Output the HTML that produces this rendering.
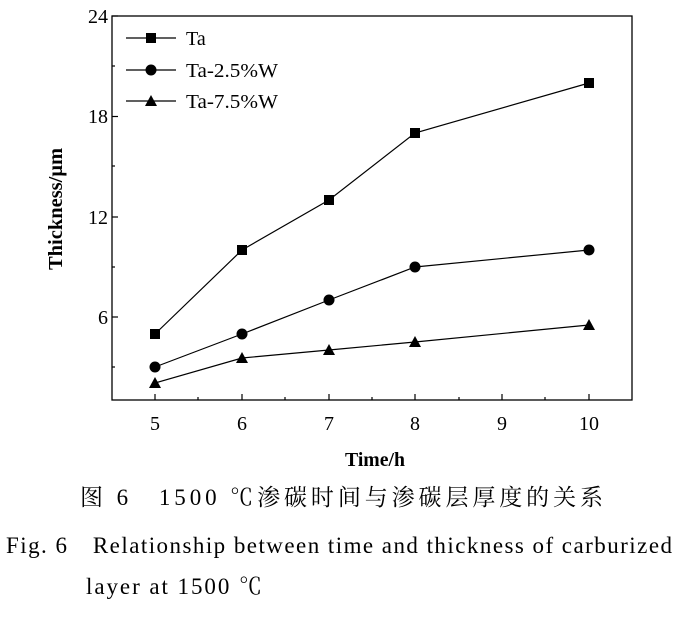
<!DOCTYPE html>
<html><head><meta charset="utf-8"><style>
body{margin:0;background:#fff;}
svg text{font-family:"Liberation Serif","Noto Serif CJK SC",serif;fill:#000;}
</style></head><body>
<svg width="684" height="618" viewBox="0 0 684 618" xmlns="http://www.w3.org/2000/svg">
<rect x="112" y="16" width="520" height="384" fill="none" stroke="#000" stroke-width="1.3"/>
<g stroke="#000" stroke-width="1.2">
<line x1="112" y1="16" x2="118" y2="16"/><line x1="112" y1="116.5" x2="118" y2="116.5"/><line x1="112" y1="217" x2="118" y2="217"/><line x1="112" y1="317" x2="118" y2="317"/>
<line x1="112" y1="66" x2="115" y2="66"/><line x1="112" y1="166" x2="115" y2="166"/><line x1="112" y1="267" x2="115" y2="267"/><line x1="112" y1="367" x2="115" y2="367"/>
<line x1="155" y1="400" x2="155" y2="394"/><line x1="242" y1="400" x2="242" y2="394"/><line x1="329" y1="400" x2="329" y2="394"/><line x1="415" y1="400" x2="415" y2="394"/><line x1="502" y1="400" x2="502" y2="394"/><line x1="589" y1="400" x2="589" y2="394"/>
<line x1="198" y1="400" x2="198" y2="397"/><line x1="285" y1="400" x2="285" y2="397"/><line x1="372" y1="400" x2="372" y2="397"/><line x1="459" y1="400" x2="459" y2="397"/><line x1="545" y1="400" x2="545" y2="397"/>
</g>
<g font-size="20" text-anchor="end">
<text x="108" y="23">24</text><text x="108" y="123">18</text><text x="108" y="224">12</text><text x="108" y="324">6</text>
</g>
<g font-size="20" text-anchor="middle">
<text x="155" y="430">5</text><text x="242" y="430">6</text><text x="329" y="430">7</text><text x="415" y="430">8</text><text x="502" y="430">9</text><text x="589" y="430">10</text>
</g>
<text x="345" y="466" font-size="20" font-weight="bold" textLength="60" lengthAdjust="spacingAndGlyphs">Time/h</text>
<text transform="translate(62,270) rotate(-90)" font-size="20" font-weight="bold" textLength="122" lengthAdjust="spacingAndGlyphs">Thickness/μm</text>
<g fill="none" stroke="#000" stroke-width="1.2">
<polyline points="155,334 242,250 329,200 415,133 589,83"/>
<polyline points="155,367 242,334 329,300 415,267 589,250"/>
<polyline points="155,383 242,358 329,350 415,342 589,325"/>
<line x1="126" y1="38" x2="176" y2="38"/><line x1="126" y1="70" x2="176" y2="70"/><line x1="126" y1="101" x2="176" y2="101"/>
</g>
<g fill="#000">
<rect x="150" y="329" width="10" height="10"/><rect x="237" y="245" width="10" height="10"/><rect x="324" y="195" width="10" height="10"/><rect x="410" y="128" width="10" height="10"/><rect x="584" y="78" width="10" height="10"/><rect x="146" y="33" width="10" height="10"/>
<circle cx="155" cy="367" r="5.5"/><circle cx="242" cy="334" r="5.5"/><circle cx="329" cy="300" r="5.5"/><circle cx="415" cy="267" r="5.5"/><circle cx="589" cy="250" r="5.5"/><circle cx="151" cy="70" r="5.5"/>
<polygon points="155,377 149,388 161,388"/><polygon points="242,352 236,363 248,363"/><polygon points="329,344 323,355 335,355"/><polygon points="415,336 409,347 421,347"/><polygon points="589,319 583,330 595,330"/><polygon points="151,95 145,106 157,106"/>
</g>
<g font-size="20"><text x="186" y="45">Ta</text><text x="186" y="77" textLength="92" lengthAdjust="spacingAndGlyphs">Ta-2.5%W</text><text x="186" y="108" textLength="92" lengthAdjust="spacingAndGlyphs">Ta-7.5%W</text></g>
<text x="80" y="505" font-size="23" textLength="523" lengthAdjust="spacing">图 6　1500 ℃渗碳时间与渗碳层厚度的关系</text>
<text x="6" y="553" font-size="23" textLength="666" lengthAdjust="spacing">Fig. 6　Relationship between time and thickness of carburized</text>
<text x="86" y="594" font-size="23" textLength="176" lengthAdjust="spacing">layer at 1500 ℃</text>
</svg>
</body></html>
